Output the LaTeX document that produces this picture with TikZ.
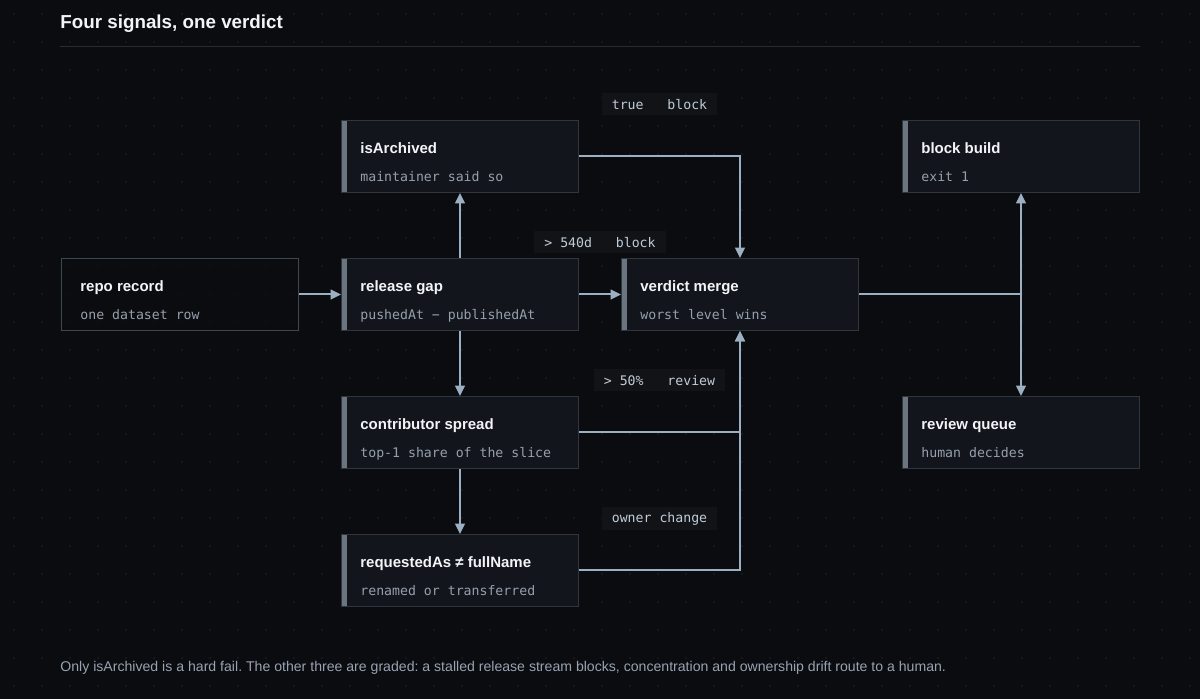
\documentclass[tikz,border=0pt]{standalone}
\usepackage{fontspec}
\setmainfont{Liberation Sans}
\newfontfamily\monofont{DejaVu Sans Mono}
\usetikzlibrary{arrows.meta}
\frenchspacing
\definecolor{bg_dark}{RGB}{11,12,15}
\definecolor{dot_gray}{RGB}{25,27,32}
\definecolor{rule_gray}{RGB}{40,43,49}
\definecolor{card_fill}{RGB}{18,21,27}
\definecolor{card_edge}{RGB}{48,54,62}
\definecolor{repo_edge}{RGB}{62,72,82}
\definecolor{bar_gray}{RGB}{106,117,128}
\definecolor{edge_blue}{RGB}{157,176,195}
\definecolor{title_white}{RGB}{242,244,247}
\definecolor{sub_gray}{RGB}{150,160,172}
\definecolor{tag_fill}{RGB}{17,19,23}
\definecolor{tag_text}{RGB}{192,204,216}
\definecolor{foot_gray}{RGB}{151,163,179}

\begin{document}
\begin{tikzpicture}[x=0.5pt,y=-0.5pt,>={Triangle[length=5.2pt,width=4.8pt]}]
    \tikzstyle{card}=[draw=card_edge, fill=card_fill, line width=0.5pt, anchor=north west, inner sep=0pt,
      minimum width=118.5pt, minimum height=36pt,
      path picture={\fill[bar_gray] (path picture bounding box.north west) rectangle ([xshift=2.5pt]path picture bounding box.south west);}]
    \tikzstyle{plain}=[draw=repo_edge, fill=bg_dark, fill opacity=0.6, line width=0.5pt, anchor=north west, inner sep=0pt,
      minimum width=118.5pt, minimum height=36pt]
    \tikzstyle{ttl}=[anchor=base west, inner sep=0pt, text=title_white, font=\fontsize{7.5pt}{9pt}\selectfont\bfseries]
    \tikzstyle{sub}=[anchor=base west, inner sep=0pt, text=sub_gray, font=\fontsize{6.6pt}{8pt}\selectfont\monofont]
    \tikzstyle{tag}=[fill=tag_fill, text=tag_text, inner xsep=5pt, inner ysep=2.5pt, minimum height=11pt,
      font=\fontsize{6.6pt}{8pt}\selectfont\monofont]
    \tikzstyle{flow}=[->, draw=edge_blue, line width=1pt]

    % canvas and dot grid
    \fill[bg_dark] (0,0) rectangle (1200,699);
    \useasboundingbox (0,0) rectangle (1200,699);
    \foreach \i in {0,...,42}
      \foreach \j in {0,...,24}
        \fill[dot_gray] (14+28*\i,14+28*\j) circle (0.55pt);

    % heading
    \node[anchor=base west, inner sep=0pt, text=title_white, font=\fontsize{9.4pt}{11pt}\selectfont\bfseries]
      (head) at (60,29) {Four signals, one verdict};
    \draw[rule_gray, line width=0.5pt] (60,46.5) -- (1140,46.5);

    % cards
    \node[plain] (repo) at (61,258) {};
    \node[ttl] at ([shift={(19,34)}]repo.north west) {repo record};
    \node[sub] at ([shift={(19,62)}]repo.north west) {one dataset row};

    \node[card] (arch) at (341,120) {};
    \node[ttl] at ([shift={(19,34)}]arch.north west) {isArchived};
    \node[sub] at ([shift={(19,62)}]arch.north west) {maintainer said so};

    \node[card] (gap) at (341,258) {};
    \node[ttl] at ([shift={(19,34)}]gap.north west) {release gap};
    \node[sub] at ([shift={(19,62)}]gap.north west) {pushedAt − publishedAt};

    \node[card] (spread) at (341,396) {};
    \node[ttl] at ([shift={(19,34)}]spread.north west) {contributor spread};
    \node[sub] at ([shift={(19,62)}]spread.north west) {top‑1 share of the slice};

    \node[card] (owner) at (341,534) {};
    \node[ttl] at ([shift={(19,34)}]owner.north west) {requestedAs ≠ fullName};
    \node[sub] at ([shift={(19,62)}]owner.north west) {renamed or transferred};

    \node[card] (merge) at (621,258) {};
    \node[ttl] at ([shift={(19,34)}]merge.north west) {verdict merge};
    \node[sub] at ([shift={(19,62)}]merge.north west) {worst level wins};

    \node[card] (build) at (902,120) {};
    \node[ttl] at ([shift={(19,34)}]build.north west) {block build};
    \node[sub] at ([shift={(19,62)}]build.north west) {exit 1};

    \node[card] (queue) at (902,396) {};
    \node[ttl] at ([shift={(19,34)}]queue.north west) {review queue};
    \node[sub] at ([shift={(19,62)}]queue.north west) {human decides};

    % connectors
    \draw[flow] (repo.east) -- (gap.west);
    \draw[flow] (gap.north) -- (arch.south);
    \draw[flow] (gap.south) -- (spread.north);
    \draw[flow] (spread.south) -- (owner.north);
    \draw[flow] (gap.east) -- (merge.west)
      node[tag, midway, yshift=26pt] {>\ 540d\ \ \ block};
    \draw[flow] (arch.east) -| (merge.north)
      node[tag, pos=0.25, yshift=26pt] {true\ \ \ block};
    \draw[flow] (spread.east) -| (merge.south)
      node[tag, pos=0.25, yshift=26pt] {>\ 50\%\ \ \ review};
    \draw[flow] (owner.east) -| (merge.south)
      node[tag, pos=0.25, yshift=26pt] {owner change};
    \draw[flow] (merge.east) -| (build.south);
    \draw[flow] (merge.east) -| (queue.north);

    % footnote
    \node[anchor=base west, inner sep=0pt, text=foot_gray, font=\fontsize{7.05pt}{9pt}\selectfont]
      (note) at (60,672) {Only isArchived is a hard fail. The other three are graded: a stalled release stream blocks, concentration and ownership drift route to a human.};
\end{tikzpicture}
\end{document}
